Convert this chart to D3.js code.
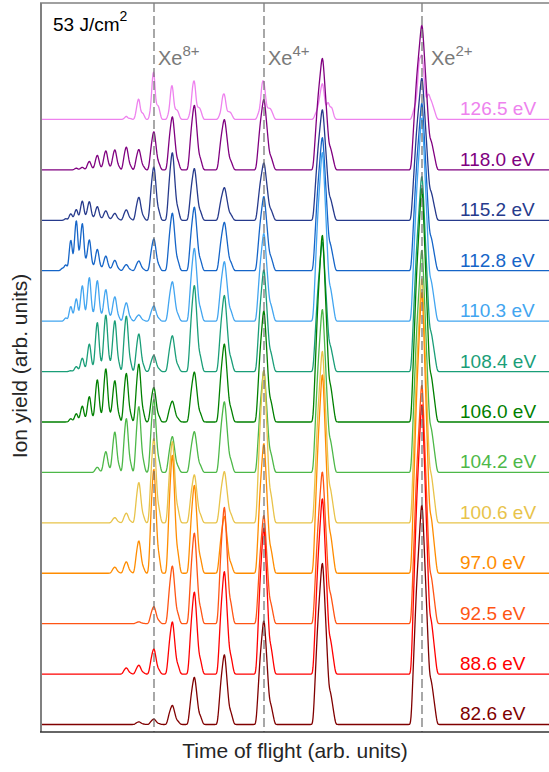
<!DOCTYPE html>
<html>
<head>
<meta charset="utf-8">
<script src="https://cdn.jsdelivr.net/npm/d3@7"></script>
<style>
  html, body { margin: 0; padding: 0; background: #fff; }
  svg { display: block; font-family: "Liberation Sans", Arial, Helvetica, sans-serif; }
</style>
</head>
<body>
<svg id="chart" width="549" height="772"></svg>
<script>
// Photon energies, top trace first
const photonEnergies = ["126.5 eV", "118.0 eV", "115.2 eV", "112.8 eV", "110.3 eV", "108.4 eV",
  "106.0 eV", "104.2 eV", "100.6 eV", "97.0 eV", "92.5 eV", "88.6 eV", "82.6 eV"];
const traceColors = ["#EE82EE", "#800080", "#263A8C", "#1565C8", "#42A5F0", "#1A9E78",
  "#008000", "#4DB848", "#E8C34A", "#FF8C00", "#FF5514", "#FF0000", "#800000"];

// Xe charge states and their flight times (arb. units)
const chargeStates = [2, 3, 4, 5, 6, 7, 8, 9, 10, 11, 12, 13, 14, 15, 16, 17, 18, 19];
const chargeTof = [381, 281.5, 223, 183.5, 153.5, 131.5, 113, 98, 85.5, 74, 65, 56.5, 48.5, 41.5, 35.5, 30, 25, 21.5];
const peakWidth = [12.2, 10.5, 8.8, 7.8, 7.2, 6.6, 6, 5.4, 5, 4.8, 4.6, 4.3, 4.1, 3.8, 3.6, 3.4, 3.1, 3];

// Peak yields per charge state (q = 2 ... 19), one array per photon energy
const yield126_5 = [1.40, 0.80, 0.80, 0.55, 0.85, 0.70, 1.02, 0.48, 0.08, 0, 0, 0, 0, 0, 0, 0, 0, 0];
const yield118_0 = [3.03, 2.36, 1.51, 1.09, 1.41, 1.17, 0.85, 0.46, 0.52, 0.46, 0.44, 0.34, 0.20, 0.06, 0.04, 0, 0, 0];
const yield115_2 = [2.98, 2.34, 1.23, 0.71, 1.13, 1.49, 1.19, 0.52, 0.24, 0.16, 0.22, 0.32, 0.44, 0.46, 0.26, 0.16, 0.04, 0];
const yield112_8 = [3.51, 2.82, 1.59, 1.05, 1.39, 1.27, 0.71, 0.22, 0.14, 0.24, 0.34, 0.50, 0.73, 1.13, 1.21, 0.75, 0.14, 0.06];
const yield110_3 = [4.26, 3.57, 1.88, 1.29, 1.59, 0.87, 0.34, 0.14, 0.42, 0.56, 0.73, 0.95, 1.03, 0.85, 0.54, 0.36, 0.08, 0];
const yield108_4 = [4.09, 2.74, 2.18, 1.65, 1.88, 0.79, 0.36, 0.85, 1.27, 1.17, 1.31, 1.15, 0.65, 0.32, 0.12, 0.02, 0, 0];
const yield106_0 = [4.90, 3.95, 2.38, 1.69, 1.09, 0.46, 0.77, 1.31, 1.11, 0.95, 1.23, 0.99, 0.60, 0.38, 0.20, 0.08, 0, 0];
const yield104_2 = [4.66, 3.45, 2.18, 1.53, 0.89, 0.79, 1.63, 1.49, 1.23, 0.93, 0.48, 0.12, 0, 0, 0, 0, 0, 0];
const yield100_6 = [5.12, 3.63, 3.27, 1.11, 1.05, 1.79, 1.88, 0.91, 0.22, 0.12, 0, 0, 0, 0, 0, 0, 0, 0];
const yield97_0 = [5.89, 4.20, 2.78, 1.23, 1.92, 2.60, 2.32, 0.73, 0.26, 0.14, 0, 0, 0, 0, 0, 0, 0, 0];
const yield92_5 = [5.00, 3.21, 2.32, 2.52, 1.98, 1.27, 0.38, 0.04, 0, 0, 0, 0, 0, 0, 0, 0, 0, 0];
const yield88_6 = [5.65, 3.71, 3.13, 2.22, 1.79, 1.15, 0.56, 0.20, 0.14, 0, 0, 0, 0, 0, 0, 0, 0, 0];
const yield82_6 = [4.60, 3.41, 2.22, 1.51, 1.03, 0.42, 0.12, 0.06, 0, 0, 0, 0, 0, 0, 0, 0, 0, 0];

const traceYields = [yield126_5, yield118_0, yield115_2, yield112_8, yield110_3, yield108_4,
  yield106_0, yield104_2, yield100_6, yield97_0, yield92_5, yield88_6, yield82_6];

// Resolved isotope spikes in the highest-energy spectrum: [time of flight, yield]
const spikes126_5 = [[378, 0.40], [387.5, 0.16], [287, 0.16], [291, 0.10], [221, 0.26],
  [181.5, 0.16], [151.5, 0.22], [130, 0.22], [111.5, 0.28], [96, 0.12]];

// Core sharpness and shoulder fraction of the peak shapes per spectrum
const coreScale = [0.5, 1, 1, 1, 1, 1, 1, 1, 1, 1, 1, 1, 1];
const shoulderFrac = [0.28, 0.2, 0.2, 0.2, 0.2, 0.2, 0.2, 0.2, 0.2, 0.2, 0.2, 0.2, 0.2];

// Charge states marked with dashed guide lines
const markedCharges = [8, 4, 2];

const svg = d3.select("#chart");
const W = 549, H = 772;
const margin = { left: 41, right: 0, top: 3, bottom: 40 };

const x = d3.scaleLinear().domain([0, 508]).range([margin.left, W]);
const y = d3.scaleLinear().domain([-0.149, 14.31]).range([H - margin.bottom, margin.top]);

// Isotope-broadened peak: steep triangular core with a low shoulder on the slow side
function peakProfile(dx, h, w, cs, s) {
  const L = 0.9 * w * cs, R = 0.62 * w * cs;
  let core = dx < 0 ? 1 + dx / L : 1 - dx / R;
  core = Math.max(0, core);
  const a0 = -0.9 * w, a1 = -0.45 * w, b0 = 0.75 * w, b1 = 1.25 * w;
  let sh;
  if (dx <= a0 || dx >= b1) sh = 0;
  else if (dx < a1) sh = (dx - a0) / (a1 - a0);
  else if (dx <= b0) sh = 1;
  else sh = (b1 - dx) / (b1 - b0);
  return h * ((1 - s) * core + s * sh);
}

function spikeProfile(dx, h) {
  return h * Math.max(0, 1 - Math.abs(dx) / 2);
}

const step = 0.5;
const grid = d3.range(0, 508 + step, step);

function spectrum(yields, cs, s, spikes) {
  const raw = grid.map(t => {
    let v = 0;
    yields.forEach((h, i) => {
      if (h > 0) v += peakProfile(t - chargeTof[i], h, peakWidth[i], cs, s);
    });
    (spikes || []).forEach(([t0, h]) => { v += spikeProfile(t - t0, h); });
    return v;
  });
  // light gaussian smoothing of the detector response
  const sigma = 0.8 / step;
  const k = d3.range(-Math.ceil(3 * sigma), Math.ceil(3 * sigma) + 1).map(j => Math.exp(-0.5 * (j / sigma) ** 2));
  const ks = d3.sum(k);
  const half = (k.length - 1) / 2;
  return raw.map((_, i) => {
    let acc = 0;
    for (let j = 0; j < k.length; j++) {
      const idx = Math.min(raw.length - 1, Math.max(0, i + j - half));
      acc += raw[idx] * k[j];
    }
    return acc / ks;
  });
}

const nTraces = photonEnergies.length;
const line = d3.line().x(d => x(d[0])).y(d => y(d[1]));

const plot = svg.append("g");
traceYields.forEach((yields, i) => {
  const offset = nTraces - 1 - i;
  const s = spectrum(yields, coreScale[i], shoulderFrac[i], i === 0 ? spikes126_5 : null);
  const pts = grid.map((t, j) => [t, offset + s[j]]);
  plot.append("path")
    .attr("d", line(pts))
    .attr("fill", "none")
    .attr("stroke", traceColors[i])
    .attr("stroke-width", 1.3)
    .attr("stroke-linejoin", "round");
});

// Dashed guide lines at selected charge states, labels set just right of each line
markedCharges.forEach(q => {
  const t = chargeTof[chargeStates.indexOf(q)];
  svg.append("line")
    .attr("x1", x(t)).attr("x2", x(t))
    .attr("y1", margin.top).attr("y2", H - margin.bottom)
    .attr("stroke", "#6e6e6e")
    .attr("stroke-width", 1.2)
    .attr("stroke-dasharray", "9,4");
  const lbl = svg.append("text")
    .attr("x", x(t) + (q === 2 ? 9 : 4))
    .attr("y", 65)
    .attr("fill", "#7a7a7a")
    .attr("font-size", 20);
  lbl.append("tspan").text("Xe");
  lbl.append("tspan").attr("dy", -9).attr("font-size", 15).text(q + "+");
});

// Energy labels
photonEnergies.forEach((e, i) => {
  const offset = nTraces - 1 - i;
  svg.append("text")
    .attr("x", 460)
    .attr("y", y(offset) - 4)
    .attr("fill", traceColors[i])
    .attr("font-size", 19)
    .text(e);
});

// Frame
svg.append("line").attr("x1", margin.left).attr("x2", margin.left)
  .attr("y1", margin.top).attr("y2", H - margin.bottom)
  .attr("stroke", "#808080").attr("stroke-width", 2);
svg.append("line").attr("x1", margin.left - 1).attr("x2", W)
  .attr("y1", margin.top).attr("y2", margin.top)
  .attr("stroke", "#808080").attr("stroke-width", 1.5);
svg.append("line").attr("x1", margin.left - 1).attr("x2", W)
  .attr("y1", H - margin.bottom).attr("y2", H - margin.bottom)
  .attr("stroke", "#333").attr("stroke-width", 1.5);

// Fluence annotation
const flu = svg.append("text").attr("x", 53).attr("y", 31).attr("font-size", 19).attr("fill", "#000");
flu.append("tspan").text("53 J/cm");
flu.append("tspan").attr("dy", -10).attr("font-size", 14).text("2");

// Axis titles
svg.append("text")
  .attr("x", 295)
  .attr("y", 758)
  .attr("text-anchor", "middle")
  .attr("font-size", 21)
  .attr("fill", "#262626")
  .text("Time of flight (arb. units)");
svg.append("text")
  .attr("transform", `translate(27, 366) rotate(-90)`)
  .attr("text-anchor", "middle")
  .attr("font-size", 21)
  .attr("fill", "#262626")
  .text("Ion yield (arb. units)");
</script>
</body>
</html>
